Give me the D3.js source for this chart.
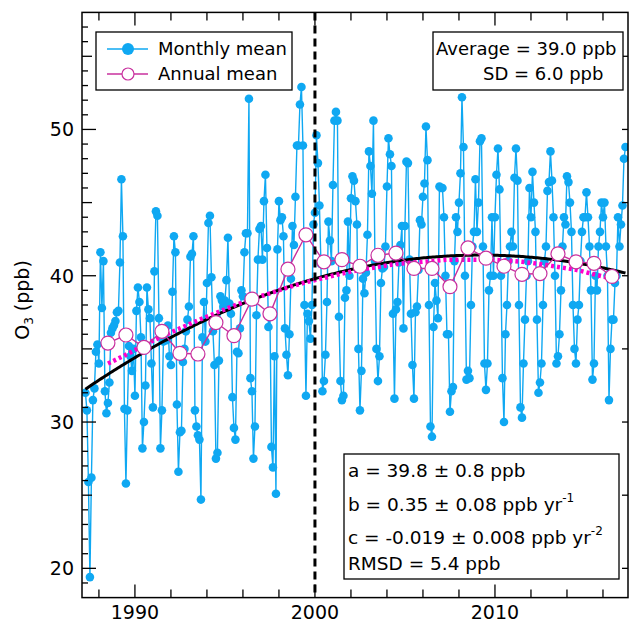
<!DOCTYPE html>
<html>
<head>
<meta charset="utf-8">
<script src="https://cdn.jsdelivr.net/npm/d3@7"></script>
<style>
  body { margin: 0; background: #fff; }
  svg { display: block; font-family: "DejaVu Sans", sans-serif; }
</style>
</head>
<body>
<svg width="631" height="627"></svg>
<script>
// monthly means, first value = April 1987, one value per month
var monthlyStart = 1987 + 3 / 12;
var monthlyO3 = [
  32.0, 30.8, 25.9, 19.4, 26.2, 31.5, 32.3, 34.8, 35.3,                 // 1987
  34.0, 41.6, 37.8, 41.0, 32.1, 30.6, 31.3, 32.7, 36.1, 36.4, 36.6, 36.9, // 1988
  37.5, 37.6, 40.9, 46.6, 42.7, 30.9, 25.8, 30.8, 35.2, 34.5, 33.5, 35.0, // 1989
  31.8, 37.6, 39.2, 38.2, 35.8, 28.2, 30.0, 32.5, 39.2, 37.7, 37.1, 34.0, // 1990
  31.0, 40.3, 44.4, 44.1, 37.1, 28.2, 30.8, 35.5, 36.4, 35.6, 36.6, 34.5, // 1991
  33.9, 38.9, 42.7, 41.6, 31.2, 26.6, 29.3, 29.4, 34.1, 35.0, 36.2, 37.0, // 1992
  37.9, 41.3, 41.5, 42.7, 30.8, 29.7, 29.1, 28.8, 24.7, 35.8, 38.2, 35.5, // 1993
  39.5, 43.6, 44.1, 39.9, 36.2, 33.9, 27.5, 27.9, 34.2, 38.6, 38.3, 37.9, // 1994
  38.3, 39.7, 42.6, 38.1, 37.4, 31.7, 29.6, 28.8, 34.8, 34.7, 36.4, 39.0, // 1995
  38.6, 41.6, 42.9, 42.9, 52.1, 33.0, 32.1, 27.5, 29.7, 37.3, 41.1, 43.2, // 1996
  43.4, 41.1, 45.1, 46.9, 41.9, 36.5, 37.3, 28.3, 26.9, 34.5, 25.1, 41.8, // 1997
  45.1, 43.8, 44.0, 42.7, 36.4, 34.6, 33.2, 36.0, 39.8, 43.4, 42.1, 45.4, // 1998
  48.9, 48.9, 51.7, 52.9, 48.9, 38.0, 31.8, 37.4, 36.9, 35.7, 38.0, 43.5, // 1999
  44.3, 49.6, 47.7, 44.8, 40.8, 32.1, 32.8, 34.6, 38.2, 43.7, 42.4, 41.0, // 2000
  46.2, 50.6, 51.2, 50.6, 37.2, 32.8, 31.5, 31.8, 38.5, 39.0, 43.7, 40.0, // 2001
  45.3, 46.8, 46.5, 45.1, 43.5, 35.0, 30.8, 33.5, 39.8, 38.8, 40.2, 42.8, // 2002
  48.5, 47.5, 45.6, 50.6, 41.0, 35.0, 32.8, 34.5, 39.5, 40.5, 40.6, 42.0, // 2003
  46.1, 49.4, 48.3, 47.5, 37.4, 31.6, 37.7, 38.2, 40.9, 42.1, 43.4, 36.4, // 2004
  43.4, 47.8, 47.7, 41.1, 37.4, 33.9, 31.6, 37.5, 37.9, 40.4, 43.8, 43.5, // 2005
  45.4, 46.3, 50.2, 47.9, 38.0, 29.7, 29.0, 36.5, 39.5, 38.3, 37.1, 46.1, // 2006
  46.0, 46.0, 44.0, 40.0, 36.0, 36.0, 30.7, 32.1, 32.4, 41.0, 44.0, 43.0, // 2007
  45.0, 47.0, 52.2, 48.8, 40.0, 32.9, 33.5, 33.0, 38.0, 42.0, 43.0, 46.6, // 2008
  43.0, 45.0, 49.2, 49.4, 42.0, 34.0, 32.2, 34.0, 39.0, 40.0, 44.0, 40.0, // 2009
  44.0, 46.9, 48.7, 45.9, 40.0, 33.0, 30.0, 36.0, 38.0, 41.0, 42.0, 43.0, // 2010
  42.0, 46.7, 48.7, 46.5, 38.0, 31.0, 30.3, 34.0, 37.0, 40.0, 41.0, 46.0, // 2011
  44.0, 47.1, 45.0, 43.0, 37.0, 32.0, 32.7, 34.0, 38.0, 41.0, 42.0, 45.8, // 2012
  46.4, 48.5, 46.5, 44.0, 40.0, 34.0, 34.5, 36.0, 39.0, 42.0, 44.0, 43.5, // 2013
  46.8, 46.4, 45.0, 43.0, 38.0, 35.0, 34.0, 37.0, 38.0, 41.0, 43.0, 44.0, // 2014
  44.0, 45.7, 44.0, 42.0, 39.0, 32.9, 34.0, 40.0, 39.0, 42.0, 43.0, 45.0, // 2015
  44.0, 45.0, 42.0, 40.0, 31.5, 35.0, 37.0, 37.0, 39.5, 40.0, 44.0, 42.0, // 2016
  43.5, 44.8, 48.0, 48.8                                                  // 2017
];

// annual means (plotted mid-year)
var annualYears = d3.range(1988, 2017);
var annualO3 = [35.4, 35.95, 35.1, 36.2, 34.7, 34.65, 36.8, 35.9, 38.4, 37.4,
  40.45, 42.8, 40.95, 41.1, 40.65, 41.4, 41.55, 40.5, 40.5, 39.25,
  41.9, 41.2, 40.65, 40.1, 40.15, 41.5, 40.95, 40.85, 39.95];

// magenta dotted trend through the annual means
var trendO3 = [34.0, 34.6, 35.25, 35.85, 36.4, 36.95, 37.45, 37.95, 38.4, 38.8,
  39.2, 39.55, 39.85, 40.15, 40.4, 40.6, 40.8, 40.9, 41.0, 41.1,
  41.1, 41.1, 41.05, 40.95, 40.8, 40.6, 40.4, 40.1, 39.8];

// quadratic fit: O3 = a + b (t - 2000) + c (t - 2000)^2
var fitA = 39.8, fitB = 0.35, fitC = -0.019, fitT0 = 2000;

var statLines = ["Average = 39.0 ppb", "SD = 6.0 ppb"];

var blue = "#0fa8f2", pink = "#c8309e", dotPink = "#ff00cc";

var svg = d3.select("svg");
var x = d3.scaleLinear().domain([1987.06, 2017.39]).range([82, 628]);
var y = d3.scaleLinear().domain([18, 58]).range([597.6, 12.4]);

var monthly = monthlyO3.map(function(v, i) {
  return {t: monthlyStart + i / 12, v: v};
});
var annual = annualYears.map(function(yr, i) {
  return {t: yr + 0.5, v: annualO3[i]};
});
var trend = annualYears.map(function(yr, i) {
  return {t: yr + 0.5, v: trendO3[i]};
});

var line = d3.line()
  .x(function(d) { return x(d.t); })
  .y(function(d) { return y(d.v); });

var plot = svg.append("g");
plot.append("clipPath").attr("id", "clip")
  .append("rect").attr("x", 82).attr("y", 12.4).attr("width", 546).attr("height", 585.2);
var inner = plot.append("g").attr("clip-path", "url(#clip)");

// monthly series
inner.append("path").datum(monthly)
  .attr("d", line).attr("fill", "none")
  .attr("stroke", blue).attr("stroke-width", 1.4);
inner.append("g").selectAll("circle")
  .data(monthly).enter().append("circle")
  .attr("cx", function(d) { return x(d.t); })
  .attr("cy", function(d) { return y(d.v); })
  .attr("r", 4.3).attr("fill", blue);

// black quadratic fit
var fitPts = d3.range(monthlyStart, 2017.3, 0.1).map(function(t) {
  var s = t - fitT0;
  return {t: t, v: fitA + fitB * s + fitC * s * s};
});
inner.append("path").datum(fitPts)
  .attr("d", line).attr("fill", "none")
  .attr("stroke", "#000").attr("stroke-width", 3);

// dotted magenta trend
inner.append("path").datum(trend)
  .attr("d", line.curve(d3.curveMonotoneX)).attr("fill", "none")
  .attr("stroke", dotPink).attr("stroke-width", 4.5)
  .attr("stroke-dasharray", "3,3");
line.curve(d3.curveLinear);

// annual means
inner.append("path").datum(annual)
  .attr("d", line).attr("fill", "none")
  .attr("stroke", pink).attr("stroke-width", 1.4);
inner.append("g").selectAll("circle")
  .data(annual).enter().append("circle")
  .attr("cx", function(d) { return x(d.t); })
  .attr("cy", function(d) { return y(d.v); })
  .attr("r", 7).attr("fill", "#fff")
  .attr("stroke", pink).attr("stroke-width", 1.2);

// year 2000 divider
svg.append("line")
  .attr("x1", x(2000)).attr("x2", x(2000))
  .attr("y1", y(58)).attr("y2", y(18))
  .attr("stroke", "#000").attr("stroke-width", 3)
  .attr("stroke-dasharray", "8,5");

// frame
svg.append("rect").attr("x", 82).attr("y", 12.4).attr("width", 546).attr("height", 585.2)
  .attr("fill", "none").attr("stroke", "#000").attr("stroke-width", 1.5);

// ticks (all inward)
var ticks = svg.append("g").attr("stroke", "#000").attr("stroke-width", 1.3);
d3.range(1988, 2018, 2).forEach(function(t) {
  var len = t % 10 === 0 ? 13 : 8;
  ticks.append("line").attr("x1", x(t)).attr("x2", x(t)).attr("y1", y(18)).attr("y2", y(18) - len);
  ticks.append("line").attr("x1", x(t)).attr("x2", x(t)).attr("y1", y(58)).attr("y2", y(58) + len);
});
d3.range(19, 58, 1).forEach(function(v) {
  var len = v % 10 === 0 ? 14 : (v % 5 === 0 ? 10 : 6);
  ticks.append("line").attr("x1", 82).attr("x2", 82 + len).attr("y1", y(v)).attr("y2", y(v));
  if (v % 5 === 0) {
    ticks.append("line").attr("x1", 628).attr("x2", 622).attr("y1", y(v)).attr("y2", y(v));
  }
});

// tick labels
svg.append("g").selectAll("text")
  .data([1990, 2000, 2010]).enter().append("text")
  .attr("x", function(d) { return x(d); }).attr("y", 619)
  .attr("text-anchor", "middle").attr("font-size", 19)
  .text(function(d) { return d; });
svg.append("g").selectAll("text")
  .data([20, 30, 40, 50]).enter().append("text")
  .attr("x", 74).attr("y", function(d) { return y(d); })
  .attr("dy", "0.36em")
  .attr("text-anchor", "end").attr("font-size", 19)
  .text(function(d) { return d; });

// y title
var yt = svg.append("text")
  .attr("transform", "translate(29,300) rotate(-90)")
  .attr("text-anchor", "middle").attr("font-size", 19);
yt.append("tspan").text("O");
yt.append("tspan").attr("font-size", 12).attr("dy", 4).text("3");
yt.append("tspan").attr("dy", -4).text(" (ppb)");

// legend
var leg = svg.append("g");
leg.append("rect").attr("x", 96).attr("y", 32).attr("width", 196).attr("height", 58)
  .attr("fill", "#fff").attr("stroke", "#000").attr("stroke-width", 1.3);
leg.append("line").attr("x1", 107).attr("x2", 148).attr("y1", 49).attr("y2", 49)
  .attr("stroke", blue).attr("stroke-width", 1.5);
leg.append("circle").attr("cx", 128).attr("cy", 49).attr("r", 6).attr("fill", blue);
leg.append("line").attr("x1", 107).attr("x2", 148).attr("y1", 74).attr("y2", 74)
  .attr("stroke", pink).attr("stroke-width", 1.4);
leg.append("circle").attr("cx", 128).attr("cy", 74).attr("r", 6)
  .attr("fill", "#fff").attr("stroke", pink).attr("stroke-width", 1.2);
leg.append("text").attr("x", 158).attr("y", 49).attr("dy", "0.36em")
  .attr("font-size", 18).text("Monthly mean");
leg.append("text").attr("x", 158).attr("y", 74).attr("dy", "0.36em")
  .attr("font-size", 18).text("Annual mean");

// stats box
var st = svg.append("g");
st.append("rect").attr("x", 433).attr("y", 32).attr("width", 190).attr("height", 58)
  .attr("fill", "#fff").attr("stroke", "#000").attr("stroke-width", 1.3);
st.append("text").attr("x", 436).attr("y", 49).attr("dy", "0.36em")
  .attr("font-size", 18).text(statLines[0]);
st.append("text").attr("x", 483).attr("y", 74).attr("dy", "0.36em")
  .attr("font-size", 18).text(statLines[1]);

// fit box
var fb = svg.append("g");
fb.append("rect").attr("x", 344).attr("y", 454).attr("width", 275).attr("height", 125)
  .attr("fill", "#fff").attr("stroke", "#000").attr("stroke-width", 1.3);
function fitLine(yc, main, sup) {
  var t = fb.append("text").attr("x", 348).attr("y", yc).attr("dy", "0.36em")
    .attr("font-size", 18.5);
  t.append("tspan").text(main);
  if (sup) t.append("tspan").attr("font-size", 12).attr("dy", -9).text(sup);
}
fitLine(470, "a = " + fitA.toFixed(1) + " \u00b1 0.8 ppb");
fitLine(504, "b = " + fitB.toFixed(2) + " \u00b1 0.08 ppb yr", "-1");
fitLine(537, "c = " + fitC.toFixed(3) + " \u00b1 0.008 ppb yr", "-2");
fitLine(563, "RMSD = 5.4 ppb");
</script>
</body>
</html>
